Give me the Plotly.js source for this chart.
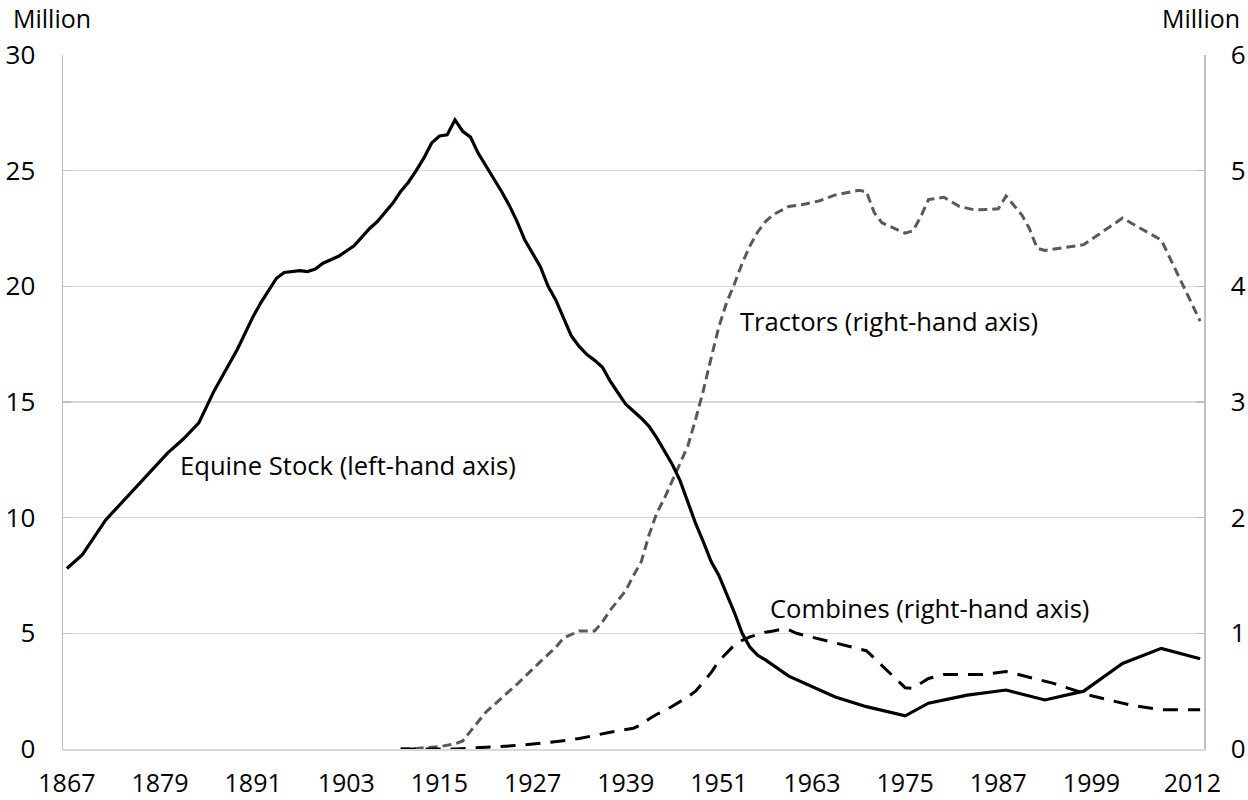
<!DOCTYPE html>
<html>
<head>
<meta charset="utf-8">
<script src="https://cdn.plot.ly/plotly-3.0.1.min.js"></script>
<style>
  html, body { margin: 0; padding: 0; background: #ffffff; }
  #chart { width: 1248px; height: 800px; }
</style>
</head>
<body>
<div id="chart"></div>
<script>
// ---- Data (millions) ----
const tickYears = [1867, 1879, 1891, 1903, 1915, 1927, 1939, 1951, 1963, 1975, 1987, 1999, 2012];
const tickLabels = ["1867", "1879", "1891", "1903", "1915", "1927", "1939", "1951", "1963", "1975", "1987", "1999", "2012"];

const equineYears = [1867, 1869, 1872, 1876, 1880, 1882, 1884, 1886, 1887, 1889, 1891, 1892, 1894, 1895, 1897, 1898, 1899, 1900, 1901, 1902, 1904, 1905, 1906, 1907, 1908, 1909, 1910, 1911, 1912, 1913, 1914, 1915, 1916, 1917, 1918, 1919, 1920, 1921, 1922, 1923, 1924, 1925, 1926, 1928, 1929, 1930, 1932, 1933, 1934, 1935, 1936, 1937, 1938, 1939, 1941, 1942, 1943, 1945, 1946, 1947, 1948, 1949, 1950, 1951, 1952, 1953, 1954, 1955, 1956, 1957, 1960, 1961, 1966, 1970, 1975, 1978, 1981, 1983, 1988, 1993, 1998, 2003, 2008, 2013];
const equineStock = [7.8, 8.4, 9.9, 11.35, 12.8, 13.4, 14.1, 15.5, 16.1, 17.3, 18.7, 19.3, 20.35, 20.6, 20.68, 20.64, 20.75, 21.0, 21.15, 21.3, 21.75, 22.1, 22.5, 22.8, 23.2, 23.6, 24.1, 24.5, 25.0, 25.55, 26.2, 26.5, 26.55, 27.2, 26.7, 26.45, 25.75, 25.2, 24.7, 24.1, 23.5, 22.8, 22.0, 20.85, 20.0, 19.4, 17.85, 17.4, 17.05, 16.8, 16.5, 15.9, 15.4, 14.9, 14.3, 13.95, 13.45, 12.3, 11.6, 10.7, 9.75, 8.95, 8.1, 7.5, 6.7, 5.9, 5.0, 4.4, 4.05, 3.85, 3.15, 3.0, 2.25, 1.83, 1.43, 1.98, 2.2, 2.33, 2.55, 2.12, 2.5, 3.7, 4.35, 3.9];

const tractorYears = [1910, 1912, 1915, 1917, 1918, 1920, 1921, 1923, 1925, 1928, 1930, 1931, 1933, 1935, 1936, 1937, 1939, 1940, 1941, 1942, 1943, 1944, 1945, 1946, 1947, 1948, 1949, 1950, 1951, 1952, 1953, 1954, 1955, 1956, 1957, 1958, 1960, 1962, 1964, 1966, 1968, 1969, 1970, 1971, 1972, 1974, 1975, 1976, 1977, 1978, 1980, 1982, 1984, 1987, 1988, 1990, 1991, 1992, 1993, 1998, 2003, 2008, 2013];
const tractors = [0.0, 0.005, 0.02, 0.045, 0.07, 0.24, 0.32, 0.44, 0.56, 0.755, 0.88, 0.96, 1.02, 1.02, 1.1, 1.2, 1.37, 1.5, 1.62, 1.85, 2.04, 2.17, 2.32, 2.48, 2.62, 2.85, 3.1, 3.38, 3.65, 3.86, 4.02, 4.2, 4.35, 4.47, 4.56, 4.62, 4.69, 4.71, 4.74, 4.79, 4.82, 4.83, 4.82, 4.64, 4.55, 4.49, 4.46, 4.48, 4.6, 4.75, 4.77, 4.69, 4.66, 4.67, 4.78, 4.62, 4.5, 4.33, 4.31, 4.36, 4.59, 4.4, 3.7];

const combineYears = [1910, 1917, 1921, 1925, 1929, 1933, 1937, 1940, 1941, 1942, 1943, 1944, 1945, 1946, 1947, 1948, 1949, 1950, 1951, 1952, 1953, 1954, 1955, 1956, 1957, 1958, 1959, 1960, 1961, 1970, 1975, 1976, 1978, 1980, 1985, 1988, 1994, 1999, 2004, 2008, 2013];
const combines = [0.0, 0.0, 0.015, 0.03, 0.055, 0.09, 0.145, 0.18, 0.21, 0.26, 0.3, 0.33, 0.37, 0.41, 0.45, 0.5, 0.58, 0.66, 0.76, 0.83, 0.9, 0.94, 0.97, 0.99, 1.01, 1.02, 1.035, 1.03, 1.0, 0.85, 0.53, 0.525, 0.61, 0.645, 0.645, 0.67, 0.57, 0.46, 0.38, 0.34, 0.34];

const FONT = "'Open Sans', Lato, sans-serif";
const FS = 26;

const traces = [
  {
    x: tractorYears, y: tractors, yaxis: 'y', type: 'scatter', mode: 'lines',
    name: 'Tractors', line: { color: '#595959', width: 3, dash: '9px,5px' }
  },
  {
    x: combineYears, y: combines, yaxis: 'y', type: 'scatter', mode: 'lines',
    name: 'Combines', line: { color: '#000000', width: 3, dash: '15px,10px' }
  },
  {
    x: equineYears, y: equineStock, yaxis: 'y2', type: 'scatter', mode: 'lines',
    name: 'Equine Stock', line: { color: '#000000', width: 3.2 }
  }
];

const layout = {
  width: 1248, height: 800,
  margin: { l: 63, r: 44, t: 55, b: 51 },
  paper_bgcolor: '#ffffff', plot_bgcolor: '#ffffff',
  showlegend: false,
  font: { family: FONT, size: FS, color: '#000000' },
  xaxis: {
    type: 'linear', range: [1866.5, 2013.5],
    tickmode: 'array', tickvals: tickYears, ticktext: tickLabels,
    showgrid: false, zeroline: false,
    showline: true, linecolor: '#d9d9d9', linewidth: 1.5,
    ticks: '', ticklabelstandoff: 11,
    tickfont: { family: FONT, size: 25, color: '#000000' }
  },
  yaxis: {
    side: 'right', range: [0, 6], tick0: 0, dtick: 1,
    showgrid: true, gridcolor: '#d9d9d9', gridwidth: 1.5,
    zeroline: false, showline: true, linecolor: '#bfbfbf', linewidth: 1.5,
    ticks: 'inside', ticklen: 8, tickcolor: '#bfbfbf', tickwidth: 1.5,
    ticklabelstandoff: 20,
    tickfont: { family: FONT, size: FS, color: '#000000' }
  },
  yaxis2: {
    side: 'left', overlaying: 'y', range: [0, 30], tick0: 0, dtick: 5,
    showgrid: false, zeroline: false,
    showline: true, linecolor: '#bfbfbf', linewidth: 1.5,
    ticks: 'inside', ticklen: 8, tickcolor: '#bfbfbf', tickwidth: 1.5,
    ticklabelstandoff: 21,
    tickfont: { family: FONT, size: FS, color: '#000000' }
  },
  annotations: [
    { text: 'Million', xref: 'paper', yref: 'paper', x: -0.0452, y: 1.0534,
      xanchor: 'left', yanchor: 'middle', showarrow: false, font: { family: FONT, size: 25, color: '#000' } },
    { text: 'Million', xref: 'paper', yref: 'paper', x: 0.9618, y: 1.0526,
      xanchor: 'left', yanchor: 'middle', showarrow: false, font: { family: FONT, size: 25, color: '#000' } },
    { text: 'Equine Stock (left-hand axis)', xref: 'paper', yref: 'paper', x: 0.1004, y: 0.408,
      xanchor: 'left', yanchor: 'middle', showarrow: false, font: { family: FONT, size: 25.6, color: '#000' } },
    { text: 'Tractors (right-hand axis)', xref: 'paper', yref: 'paper', x: 0.5917, y: 0.6157,
      xanchor: 'left', yanchor: 'middle', showarrow: false, font: { family: FONT, size: 25.6, color: '#000' } },
    { text: 'Combines (right-hand axis)', xref: 'paper', yref: 'paper', x: 0.618, y: 0.2019,
      xanchor: 'left', yanchor: 'middle', showarrow: false, font: { family: FONT, size: 25.6, color: '#000' } }
  ]
};

Plotly.newPlot('chart', traces, layout, { displayModeBar: false, staticPlot: true });
</script>
</body>
</html>
